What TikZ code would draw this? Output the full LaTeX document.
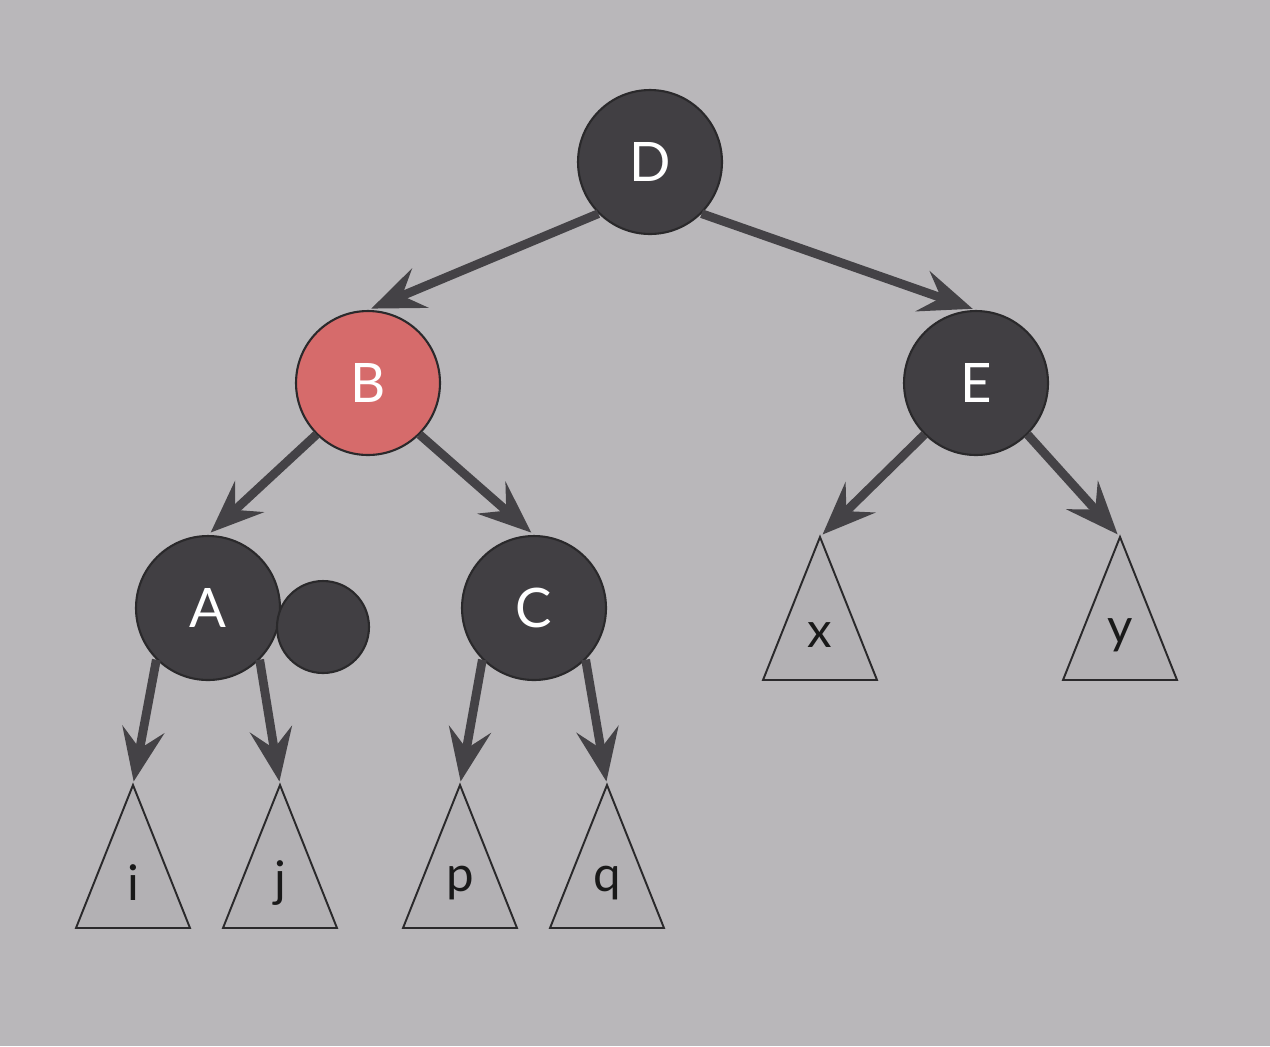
\documentclass[tikz,border=0pt]{standalone}
\usepackage{fontspec}
\setmainfont{Lato}
\usetikzlibrary{arrows.meta,calc}
\definecolor{bg}{HTML}{B9B7BA}
\definecolor{nodefill}{HTML}{413F43}
\definecolor{redfill}{HTML}{D66B6B}
\definecolor{trifill}{HTML}{B3B1B4}
\definecolor{edgecol}{HTML}{444246}
\definecolor{outline}{HTML}{2A292B}
\tikzset{
  tnode/.style={circle, draw=outline, line width=1.2pt, fill=nodefill, minimum size=2.88cm, inner sep=0pt, text=white, font=\fontsize{31}{33}\selectfont},
  rnode/.style={tnode, fill=redfill},
  dotnode/.style={circle, draw=outline, line width=1.2pt, fill=nodefill, minimum size=1.84cm, inner sep=0pt},
  tri/.style={draw=outline, line width=1.1pt, fill=trifill, line join=miter},
  trilabel/.style={text=black!90, font=\fontsize{28}{30}\selectfont, inner sep=0pt},
  arr/.style={draw=edgecol, line width=5pt, shorten >=2pt, -{Stealth[length=30pt, width=24pt, inset=11pt]}}
}
\begin{document}
\begin{tikzpicture}[x=0.02cm, y=-0.02cm]
\useasboundingbox[fill=bg] (0,0) rectangle (1270,1046);
% triangles
\foreach \n/\ax/\ay/\lbl in {ti/133/785/i, tj/280/785/j, tp/460/785/p, tq/607/785/q, tx/820/537/x, ty/1120/537/y}{
  \coordinate (\n) at (\ax,\ay);
  \draw[tri] (\n) -- ++(57,143) -- ++(-114,0) -- cycle;
  \node[trilabel] (\n lab) at ($(\n)+(0,98)$) {\lbl};
}
% circles
\node[tnode] (D) at (650,162) {\raisebox{-2pt}{D}};
\node[rnode] (B) at (368,383) {\raisebox{-2pt}{B}};
\node[tnode] (E) at (976,383) {\raisebox{-2pt}{E}};
\node[tnode] (A) at (208,608) {\raisebox{-2pt}{A}};
\node[tnode] (C) at (534,608) {\raisebox{-2pt}{C}};
\node[dotnode] (dot) at (323,627) {};
% edges
\draw[arr] (D.south west) -- (B.north);
\draw[arr] (D.south east) -- (E.north);
\draw[arr] (B.south west) -- (A.north);
\draw[arr] (B.south east) -- (C.north);
\draw[arr] (E.south west) -- (tx);
\draw[arr] (E.south east) -- (ty);
\draw[arr] (A.south west) -- (ti);
\draw[arr] (A.south east) -- (tj);
\draw[arr] (C.south west) -- (tp);
\draw[arr] (C.south east) -- (tq);
\end{tikzpicture}
\end{document}
